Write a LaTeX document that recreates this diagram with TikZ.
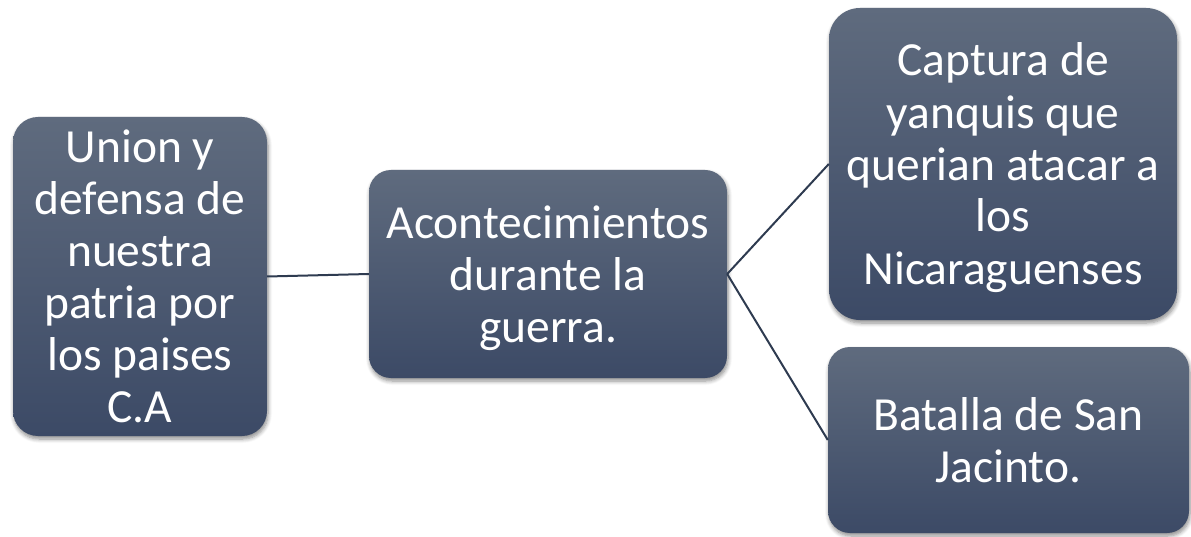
\documentclass[tikz,border=0pt]{standalone}
\usepackage{fontspec}
\setmainfont{Carlito}
\usetikzlibrary{shadows.blur}
\definecolor{boxtop}{HTML}{5F6B7E}
\definecolor{boxbot}{HTML}{3C4A66}
\definecolor{linkcol}{HTML}{2E3B50}
\tikzset{
  box/.style={rectangle, inner sep=0pt, align=center, text=white,
    text height=44pt+(#1-1)*52pt, text depth=12pt,
    top color=boxtop, bottom color=boxbot, draw=none,
    font=\fontsize{47.5}{52}\selectfont,
    blur shadow={shadow xshift=1pt, shadow yshift=-3pt, shadow blur steps=6, shadow opacity=45, shadow blur radius=4pt}},
  link/.style={draw=linkcol, line width=2pt}
}
\begin{document}
\begin{tikzpicture}[x=1pt,y=-1pt]
\useasboundingbox (0,0) rectangle (1191,537);
\node[box=6, minimum width=254pt, minimum height=319pt, rounded corners=25pt] (a) at (140,276.5)
  {Union y\\defensa de\\nuestra\\patria por\\los paises\\C.A};
\node[box=3, minimum width=358pt, minimum height=208pt, rounded corners=22pt] (b) at (548,274)
  {Acontecimientos\\durante la\\guerra.};
\node[box=5, minimum width=348pt, minimum height=312pt, rounded corners=31pt] (c) at (1003,164)
  {Captura de\\yanquis que\\querian atacar a\\los\\Nicaraguenses};
\node[box=2, minimum width=361pt, minimum height=186pt, rounded corners=22pt] (d) at (1008.5,440)
  {Batalla de San\\Jacinto.};
\draw[link] (a.east) -- (b.west);
\draw[link] (b.east) -- (c.west);
\draw[link] (b.east) -- (d.west);
\end{tikzpicture}
\end{document}
